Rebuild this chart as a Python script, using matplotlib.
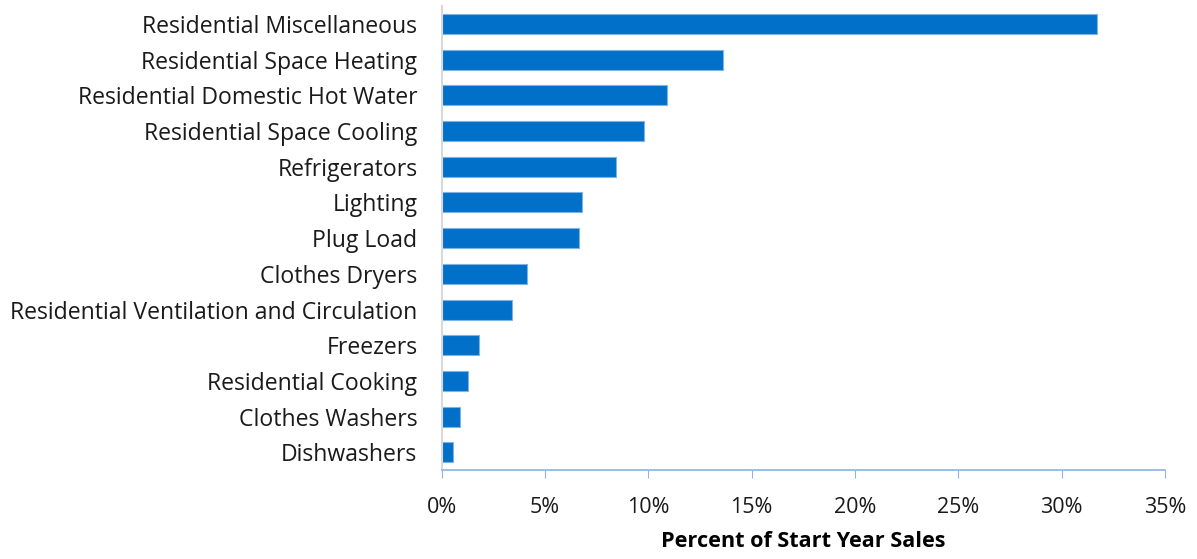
import matplotlib.pyplot as plt
from matplotlib.ticker import PercentFormatter

categories = [
    "Residential Miscellaneous",
    "Residential Space Heating",
    "Residential Domestic Hot Water",
    "Residential Space Cooling",
    "Refrigerators",
    "Lighting",
    "Plug Load",
    "Clothes Dryers",
    "Residential Ventilation and Circulation",
    "Freezers",
    "Residential Cooking",
    "Clothes Washers",
    "Dishwashers",
]
pct_sales = [31.7, 13.6, 10.9, 9.8, 8.45, 6.8, 6.63, 4.13, 3.4, 1.82, 1.26, 0.9, 0.53]
xticks = [0, 5, 10, 15, 20, 25, 30, 35]

plt.rcParams['font.family'] = ['Open Sans', 'DejaVu Sans']

fig = plt.figure(figsize=(11.97, 5.59), dpi=100)
ax = fig.add_axes([0.369, 0.159, 0.6043, 0.83])

ypos = list(range(len(categories)))
ax.barh(ypos, pct_sales, height=0.56, color='#0070C8', edgecolor='#7FB2E5', linewidth=0.8)
ax.set_yticks(ypos)
ax.set_yticklabels(categories, fontsize=16.6, color='#1a1a1a')
ax.set_ylim(len(categories) - 0.5, -0.5)

ax.set_xlim(0, 35)
ax.set_xticks(xticks)
ax.xaxis.set_major_formatter(PercentFormatter(decimals=0))
ax.tick_params(axis='x', labelsize=15.5, labelcolor='#1a1a1a', length=6, color='#8DB3E2', pad=13)
ax.tick_params(axis='y', length=0, pad=17.5)
ax.set_xlabel("Percent of Start Year Sales", fontsize=15.6, fontweight='bold', labelpad=10)

for s in ['top', 'right']:
    ax.spines[s].set_visible(False)
ax.spines['bottom'].set_color('#8DB3E2')
ax.spines['bottom'].set_linewidth(1.2)
ax.spines['left'].set_color('#D9D9D9')
ax.spines['left'].set_linewidth(1.5)

fig.savefig("out.png", dpi=100)
